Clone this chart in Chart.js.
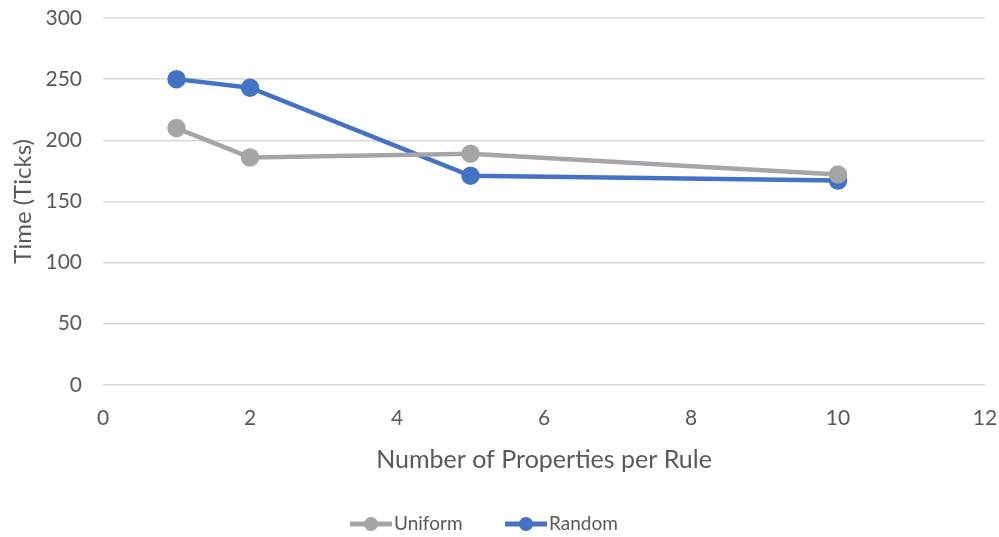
<!DOCTYPE html>
<html>
<head>
<meta charset="utf-8">
<script src="https://cdn.jsdelivr.net/npm/chart.js@4"></script>
<style>
  html, body { margin: 0; padding: 0; background: #fff; }
  #wrap { width: 999px; height: 537px; }
</style>
</head>
<body>
<div id="wrap"><canvas id="timeChart"></canvas></div>
<script>
// data
const propsPerRule = [1, 2, 5, 10];
const uniformTicks = [210, 186, 189, 172];
const randomTicks = [250, 243, 171, 167];
const yTickLabels = [0, 50, 100, 150, 200, 250, 300];
const xTickLabels = [0, 2, 4, 6, 8, 10, 12];

const FONT = "Lato, 'Open Sans', sans-serif";
const TEXT = "#595959";

const toPoints = (xs, ys) => xs.map((x, i) => ({ x: x, y: ys[i] }));

// legend: line + dot marker, like the office style
const bottomLegend = {
    id: "bottomLegend",
    afterDraw(chart) {
        const ctx = chart.ctx;
        const y = 524;
        const items = [
            { x: 350, ds: chart.data.datasets[0] },
            { x: 505, ds: chart.data.datasets[1] }
        ];
        ctx.save();
        ctx.font = "19px " + FONT;
        ctx.textBaseline = "middle";
        items.forEach(it => {
            ctx.strokeStyle = it.ds.borderColor;
            ctx.lineWidth = 5;
            ctx.beginPath();
            ctx.moveTo(it.x, y);
            ctx.lineTo(it.x + 42, y);
            ctx.stroke();
            ctx.fillStyle = it.ds.borderColor;
            ctx.beginPath();
            ctx.arc(it.x + 21, y, 7, 0, Math.PI * 2);
            ctx.fill();
            ctx.fillStyle = TEXT;
            ctx.fillText(it.ds.label, it.x + 44, y);
        });
        ctx.restore();
    }
};

new Chart(document.getElementById("timeChart"), {
    type: "line",
    data: {
        datasets: [
            {
                label: "Uniform",
                data: toPoints(propsPerRule, uniformTicks),
                borderColor: "#A5A5A5",
                backgroundColor: "#A5A5A5",
                borderWidth: 4.5,
                pointRadius: 7,
                pointHoverRadius: 7,
                tension: 0
            },
            {
                label: "Random",
                data: toPoints(propsPerRule, randomTicks),
                borderColor: "#4472C4",
                backgroundColor: "#4472C4",
                borderWidth: 4.5,
                pointRadius: 7,
                pointHoverRadius: 7,
                tension: 0
            }
        ]
    },
    options: {
        responsive: true,
        maintainAspectRatio: false,
        animation: false,
        layout: { padding: { left: 0, right: 0, top: 18, bottom: 62 } },
        plugins: {
            legend: { display: false },
            tooltip: { enabled: false }
        },
        scales: {
            x: {
                type: "linear",
                min: xTickLabels[0],
                max: xTickLabels[xTickLabels.length - 1],
                afterBuildTicks: s => { s.ticks = xTickLabels.map(v => ({ value: v })); },
                afterFit: s => { s.paddingLeft = 0; s.paddingRight = 14; },
                grid: { display: false },
                border: { display: false },
                ticks: { color: TEXT, font: { family: FONT, size: 21 }, padding: 13 },
                title: {
                    display: true,
                    text: "Number of Properties per Rule",
                    color: TEXT,
                    font: { family: FONT, size: 25 },
                    padding: { top: 1, bottom: 0 }
                }
            },
            y: {
                min: yTickLabels[0],
                max: yTickLabels[yTickLabels.length - 1],
                afterBuildTicks: s => { s.ticks = yTickLabels.map(v => ({ value: v })); },
                afterFit: s => { s.width = 103; s.paddingTop = 10; s.paddingBottom = 0; },
                grid: { color: "#D9D9D9", lineWidth: 1.5, drawTicks: false },
                border: { display: false },
                ticks: { color: TEXT, font: { family: FONT, size: 21 }, padding: 21 },
                title: {
                    display: true,
                    text: "Time (Ticks)",
                    color: TEXT,
                    font: { family: FONT, size: 24 },
                    padding: { top: 9, bottom: 0 }
                }
            }
        }
    },
    plugins: [bottomLegend]
});
</script>
</body>
</html>
